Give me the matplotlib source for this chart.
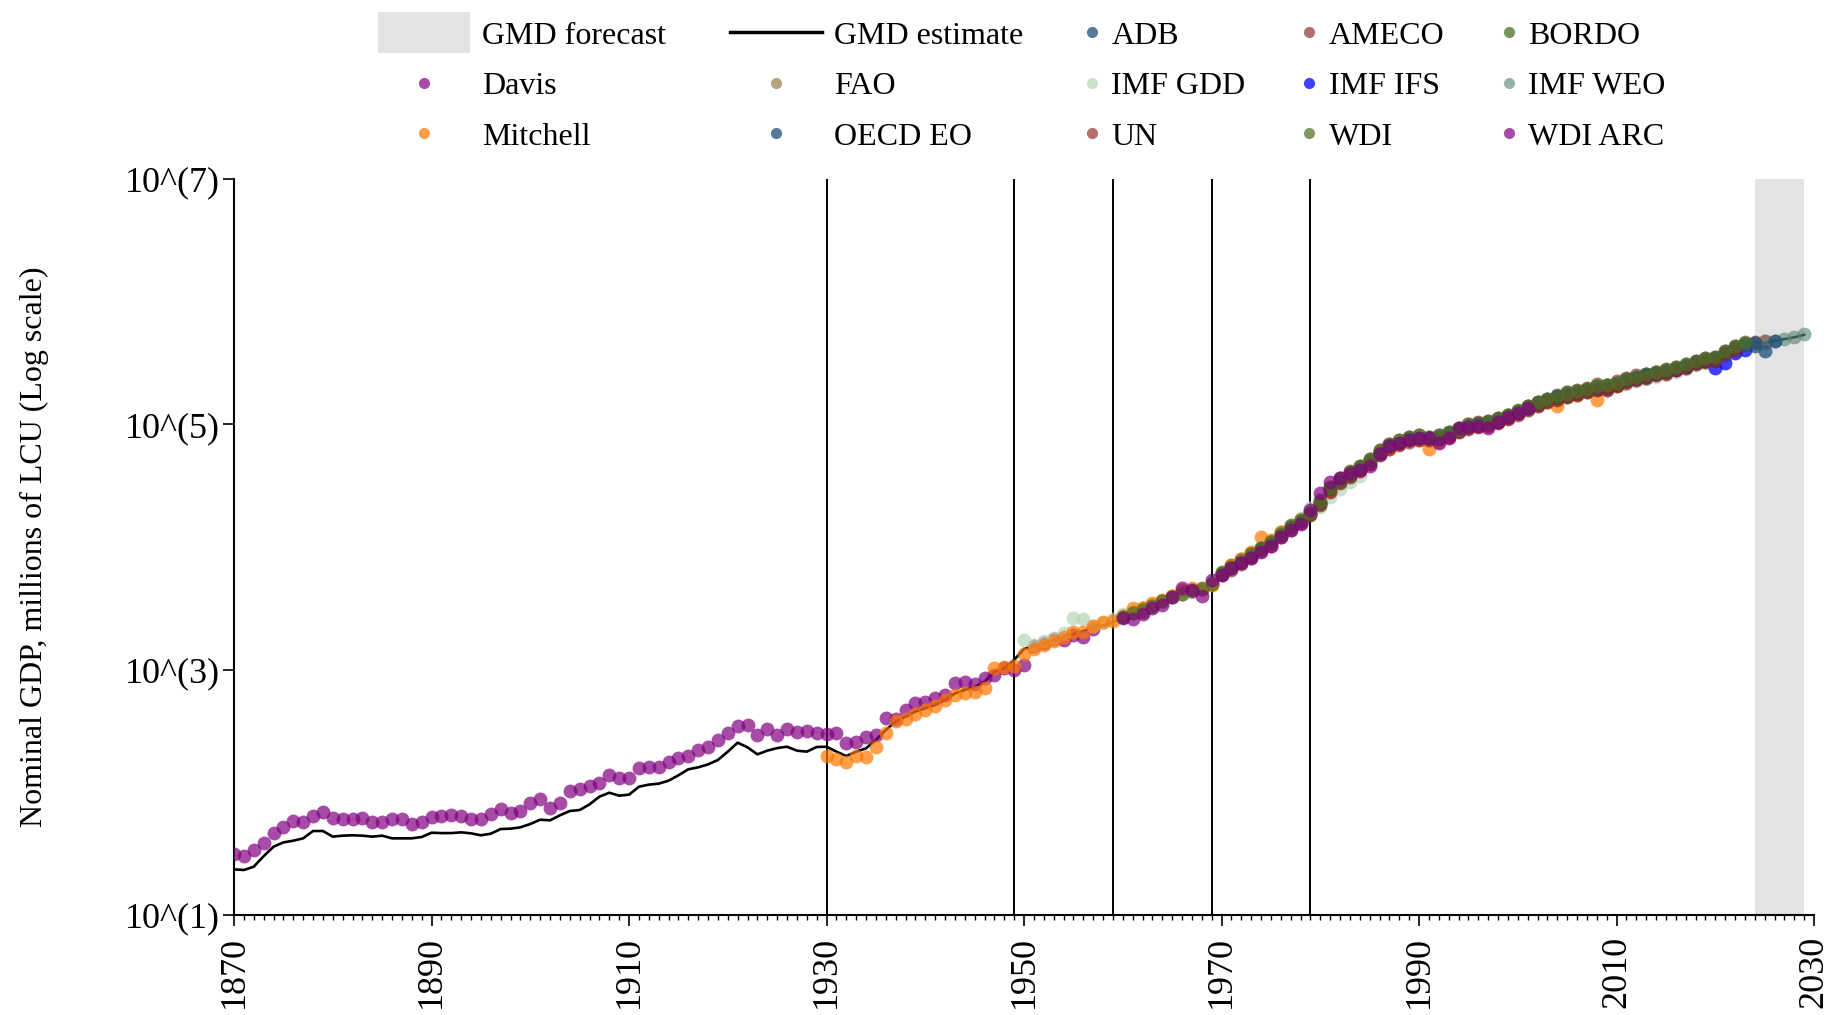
import numpy as np
import matplotlib.pyplot as plt
from matplotlib.patches import Patch, Rectangle
from matplotlib.lines import Line2D
from matplotlib.legend_handler import HandlerPatch

plt.rcParams['font.family'] = ['Liberation Serif', 'DejaVu Serif']

# Nominal GDP, millions of LCU, kept as log10 (the chart is drawn on a log10 axis labelled 10^(k))
gmd_start = 1870
gmd_log10 = [
    1.372, 1.367, 1.394, 1.480, 1.557, 1.592, 1.606, 1.625, 1.685, 1.685,
    1.639, 1.647, 1.650, 1.647, 1.639, 1.647, 1.625, 1.625, 1.625, 1.636,
    1.671, 1.668, 1.668, 1.674, 1.666, 1.650, 1.663, 1.701, 1.704, 1.715,
    1.742, 1.777, 1.772, 1.813, 1.848, 1.856, 1.902, 1.965, 1.997, 1.973,
    1.981, 2.046, 2.063, 2.071, 2.095, 2.139, 2.188, 2.204, 2.228, 2.264,
    2.332, 2.405, 2.367, 2.310, 2.340, 2.361, 2.372, 2.340, 2.332, 2.370,
    2.372, 2.332, 2.296, 2.331, 2.359, 2.427, 2.508, 2.576, 2.617, 2.658,
    2.685, 2.712, 2.753, 2.807, 2.834, 2.861, 2.902, 2.983, 3.011, 3.080,
    3.170, 3.190, 3.210, 3.240, 3.265, 3.290, 3.315, 3.340, 3.360, 3.390,
    3.420, 3.450, 3.475, 3.505, 3.545, 3.585, 3.615, 3.630, 3.650, 3.690,
    3.785, 3.830, 3.880, 3.935, 3.985, 4.030, 4.105, 4.160, 4.215, 4.275,
    4.360, 4.470, 4.540, 4.590, 4.640, 4.700, 4.770, 4.820, 4.850, 4.880,
    4.890, 4.885, 4.890, 4.920, 4.955, 4.980, 4.995, 5.010, 5.025, 5.060,
    5.095, 5.135, 5.165, 5.195, 5.215, 5.235, 5.255, 5.275, 5.290, 5.300,
    5.320, 5.350, 5.370, 5.390, 5.410, 5.425, 5.450, 5.475, 5.500, 5.525,
    5.535, 5.580, 5.625, 5.650, 5.660, 5.665, 5.680, 5.695, 5.710, 5.730,
]
forecast_span = [2024, 2029]
break_years = [1930, 1949, 1959, 1969, 1979]

adb_start = 2000
adb_log10 = [
    5.10, 5.14, 5.16, 5.19, 5.22, 5.24, 5.25, 5.27, 5.29, 5.30,
    5.32, 5.35, 5.37, 5.39, 5.41, 5.43, 5.45, 5.47, 5.50, 5.52,
    5.54, 5.58, 5.62, 5.65, 5.64,
]
ameco_start = 1960
ameco_log10 = [
    3.43, 3.46, 3.47, 3.51, 3.56, 3.59, 3.62, 3.64, 3.66, 3.70,
    3.79, 3.84, 3.89, 3.95, 3.99, 4.04, 4.11, 4.17, 4.22, 4.28,
    4.37, 4.49, 4.56, 4.61, 4.66, 4.72, 4.79, 4.84, 4.87, 4.90,
    4.91, 4.90, 4.91, 4.94, 4.97, 5.00, 5.02, 5.03, 5.05, 5.08,
    5.11, 5.15, 5.18, 5.21, 5.24, 5.26, 5.28, 5.30, 5.33, 5.32,
    5.35, 5.38, 5.40, 5.41, 5.43, 5.45, 5.47, 5.49, 5.52, 5.54,
    5.55, 5.60, 5.64, 5.66, 5.67, 5.68,
]
bordo_start = 1960
bordo_log10 = [
    3.44, 3.47, 3.50, 3.53, 3.56, 3.60, 3.63, 3.65, 3.67, 3.71,
    3.80, 3.85, 3.90, 3.93, 3.98, 4.05, 4.12, 4.18, 4.23, 4.29,
    4.38, 4.49, 4.56, 4.62, 4.66, 4.72, 4.79, 4.84, 4.87, 4.90,
    4.91, 4.90, 4.91, 4.94, 4.97, 5.00, 5.01, 5.03, 5.05, 5.08,
    5.12, 5.15, 5.18, 5.21, 5.23, 5.26, 5.27, 5.29, 5.31, 5.32,
    5.34, 5.37, 5.39, 5.41, 5.43, 5.44,
]
davis_start = 1870
davis_log10 = [
    1.50, 1.48, 1.53, 1.59, 1.67, 1.72, 1.77, 1.76, 1.81, 1.84,
    1.79, 1.78, 1.785, 1.79, 1.755, 1.76, 1.78, 1.78, 1.745, 1.76,
    1.80, 1.805, 1.815, 1.81, 1.78, 1.78, 1.82, 1.865, 1.83, 1.845,
    1.91, 1.945, 1.875, 1.915, 2.015, 2.03, 2.05, 2.075, 2.14, 2.115,
    2.115, 2.20, 2.21, 2.21, 2.25, 2.28, 2.30, 2.345, 2.37, 2.43,
    2.48, 2.54, 2.55, 2.47, 2.515, 2.47, 2.515, 2.49, 2.50, 2.48,
    2.475, 2.48, 2.40, 2.41, 2.45, 2.47, 2.61, 2.60, 2.67, 2.73,
    2.74, 2.77, 2.79, 2.89, 2.90, 2.88, 2.93, 2.96, 3.01, 3.00,
    3.04, 3.19, 3.215, 3.25, 3.24, 3.28, 3.27, 3.33,
]
fao_start = 1970
fao_log10 = [
    3.78, 3.83, 3.88, 3.94, 3.98, 4.03, 4.11, 4.16, 4.21, 4.27,
    4.36, 4.47, 4.54, 4.59, 4.64, 4.70, 4.77, 4.82, 4.85, 4.88,
    4.89, 4.88, 4.89, 4.92, 4.95, 4.98, 5.00, 5.01, 5.02, 5.06,
    5.09, 5.13, 5.17, 5.19, 5.21, 5.23, 5.26, 5.27, 5.29, 5.30,
    5.32, 5.35, 5.37, 5.39, 5.41, 5.42, 5.45, 5.47, 5.50, 5.52,
    5.53, 5.58, 5.62,
]
imf_gdd_start = 1950
imf_gdd_log10 = [
    3.24, 3.20, 3.23, 3.26, 3.30, 3.42, 3.41, 3.36, 3.38, 3.41,
    3.45, 3.46, 3.49, 3.51, 3.55, 3.59, 3.62, 3.64, 3.66, 3.70,
    3.78, 3.83, 3.88, 3.93, 3.99, 4.03, 4.10, 4.17, 4.24, 4.32,
    4.33, 4.41, 4.47, 4.53, 4.58, 4.68, 4.75, 4.81, 4.86, 4.87,
    4.90, 4.87, 4.88, 4.91, 4.94, 4.97, 4.99, 5.00, 5.02, 5.05,
    5.09, 5.12, 5.15, 5.18, 5.20, 5.22, 5.24, 5.26, 5.28, 5.29,
    5.31, 5.33, 5.35, 5.37, 5.39, 5.41, 5.43, 5.45, 5.48, 5.50,
    5.52, 5.56, 5.60,
]
imf_ifs_start = 1986
imf_ifs_log10 = [
    4.77, 4.82, 4.85, 4.88, 4.89, 4.89, 4.89, 4.92, 4.95, 4.98,
    5.00, 5.01, 5.03, 5.05, 5.09, 5.13, 5.16, 5.19, 5.22, 5.24,
    5.25, 5.27, 5.29, 5.28, 5.32, 5.35, 5.38, 5.40, 5.41, 5.43,
    5.44, 5.47, 5.51, 5.52, 5.46, 5.50, 5.58, 5.61,
]
imf_weo_start = 1980
imf_weo_log10 = [
    4.35, 4.46, 4.53, 4.58, 4.63, 4.70, 4.77, 4.82, 4.85, 4.88,
    4.89, 4.885, 4.89, 4.92, 4.955, 4.98, 4.995, 5.01, 5.025, 5.06,
    5.095, 5.135, 5.165, 5.195, 5.215, 5.235, 5.255, 5.275, 5.29, 5.30,
    5.32, 5.35, 5.37, 5.39, 5.41, 5.425, 5.45, 5.475, 5.50, 5.525,
    5.535, 5.58, 5.625, 5.65, 5.665, 5.665, 5.68, 5.695, 5.71, 5.735,
]
mitchell_start = 1930
mitchell_log10 = [
    2.30, 2.27, 2.25, 2.30, 2.29, 2.37, 2.48, 2.58, 2.60, 2.64,
    2.67, 2.70, 2.75, 2.79, 2.81, 2.82, 2.85, 3.01, 3.02, 3.03,
    3.13, 3.17, 3.20, 3.23, 3.27, 3.31, 3.31, 3.36, 3.39, 3.40,
    3.44, 3.50, 3.50, 3.54, 3.57, 3.60, 3.65, 3.67, 3.66, 3.69,
    3.78, 3.85, 3.90, 3.96, 4.08, 4.06, 4.12, 4.17, 4.22, 4.27,
    4.36, 4.46, 4.55, 4.60, 4.63, 4.71, 4.78, 4.80, 4.84, 4.87,
    4.87, 4.80, 4.86, 4.90, 4.95, 4.97, 4.99, 5.00, 5.02, 5.05,
    5.09, 5.13, 5.16, 5.18, 5.15, 5.22, 5.24, 5.26, 5.20, 5.28,
    5.31,
]
oecd_eo_start = 1970
oecd_eo_log10 = [
    3.78, 3.83, 3.88, 3.93, 3.99, 4.03, 4.10, 4.16, 4.21, 4.27,
    4.36, 4.47, 4.54, 4.59, 4.64, 4.70, 4.77, 4.82, 4.85, 4.88,
    4.89, 4.885, 4.89, 4.92, 4.955, 4.98, 4.995, 5.01, 5.025, 5.06,
    5.095, 5.135, 5.165, 5.195, 5.215, 5.235, 5.255, 5.275, 5.29, 5.30,
    5.32, 5.35, 5.37, 5.39, 5.41, 5.425, 5.45, 5.475, 5.50, 5.525,
    5.535, 5.58, 5.625, 5.65, 5.66, 5.60, 5.68,
]
un_start = 1970
un_log10 = [
    3.77, 3.81, 3.86, 3.91, 3.97, 4.01, 4.08, 4.14, 4.20, 4.26,
    4.34, 4.45, 4.52, 4.57, 4.62, 4.68, 4.75, 4.80, 4.83, 4.86,
    4.87, 4.87, 4.88, 4.90, 4.94, 4.96, 4.98, 4.99, 5.01, 5.04,
    5.08, 5.12, 5.15, 5.18, 5.20, 5.22, 5.24, 5.26, 5.28, 5.29,
    5.31, 5.34, 5.36, 5.38, 5.40, 5.41, 5.44, 5.46, 5.49, 5.51,
    5.52, 5.57, 5.61,
]
wdi_start = 1960
wdi_log10 = [
    3.43, 3.46, 3.49, 3.52, 3.56, 3.59, 3.62, 3.64, 3.66, 3.70,
    3.79, 3.84, 3.89, 3.94, 3.99, 4.04, 4.11, 4.17, 4.22, 4.28,
    4.37, 4.48, 4.55, 4.60, 4.65, 4.71, 4.78, 4.83, 4.86, 4.89,
    4.90, 4.89, 4.90, 4.93, 4.96, 4.99, 5.00, 5.02, 5.04, 5.08,
    5.11, 5.15, 5.18, 5.21, 5.23, 5.25, 5.27, 5.29, 5.31, 5.32,
    5.34, 5.37, 5.39, 5.41, 5.43, 5.44, 5.47, 5.49, 5.52, 5.54,
    5.55, 5.60, 5.64, 5.67,
]
wdi_arc_start = 1960
wdi_arc_log10 = [
    3.42, 3.41, 3.45, 3.50, 3.53, 3.59, 3.67, 3.65, 3.60, 3.73,
    3.77, 3.83, 3.87, 3.91, 3.96, 4.01, 4.08, 4.14, 4.19, 4.30,
    4.44, 4.53, 4.56, 4.60, 4.63, 4.66, 4.76, 4.82, 4.845, 4.87,
    4.886, 4.886, 4.845, 4.886, 4.967, 4.98, 4.99, 4.967, 5.02, 5.06,
    5.09, 5.13,
]

# name, first year, values, colour, alpha (drawn in this order)
sources = [
    ('ADB', adb_start, adb_log10, '#1f4e79', 0.75),
    ('AMECO', ameco_start, ameco_log10, '#8b2020', 0.65),
    ('BORDO', bordo_start, bordo_log10, '#4b7025', 0.75),
    ('Davis', davis_start, davis_log10, '#800080', 0.7),
    ('FAO', fao_start, fao_log10, '#8b7335', 0.65),
    ('IMF GDD', imf_gdd_start, imf_gdd_log10, '#b4d7b4', 0.7),
    ('IMF IFS', imf_ifs_start, imf_ifs_log10, '#0000ff', 0.75),
    ('IMF WEO', imf_weo_start, imf_weo_log10, '#5f8a7a', 0.65),
    ('Mitchell', mitchell_start, mitchell_log10, '#ff7700', 0.7),
    ('OECD EO', oecd_eo_start, oecd_eo_log10, '#1f4e79', 0.75),
    ('UN', un_start, un_log10, '#8b2020', 0.65),
    ('WDI', wdi_start, wdi_log10, '#4b7025', 0.7),
    ('WDI ARC', wdi_arc_start, wdi_arc_log10, '#800080', 0.7),
]

ytick_pos = [1, 3, 5, 7]
ytick_labels = ['10^(1)', '10^(3)', '10^(5)', '10^(7)']
xtick_pos = list(range(1870, 2031, 20))


def tall_box(legend, orig_handle, xdescent, ydescent, width, height, fontsize):
    """Forecast swatch that is taller than the text row, centred on it."""
    h = 1.28 * fontsize
    return Rectangle((-xdescent, -ydescent + height / 2 - h / 2), width, h)


fig = plt.figure(figsize=(18.37, 10.15), dpi=100)
ax = fig.add_axes([0.1274, 0.0985, 0.8601, 0.7251])

ax.axvspan(forecast_span[0], forecast_span[1], color='#e3e3e3', lw=0, zorder=0)
for yr in break_years:
    ax.axvline(yr, color='black', lw=1.4, zorder=1)

gmd_years = np.arange(gmd_start, gmd_start + len(gmd_log10))
ax.plot(gmd_years, gmd_log10, color='black', lw=1.9, zorder=2)

handles = {}
for name, start, vals, col, alpha in sources:
    yrs = np.arange(start, start + len(vals))
    handles[name] = ax.scatter(yrs, vals, s=100, color=col, alpha=alpha,
                               linewidths=0, zorder=3)

forecast_patch = Patch(facecolor='#e3e3e3', edgecolor='none')
handles['GMD forecast'] = forecast_patch
handles['GMD estimate'] = Line2D([], [], color='black', lw=2.5)

ax.set_xlim(1870, 2030)
ax.set_ylim(1, 7)
ax.set_xticks(xtick_pos)
ax.set_xticklabels([str(x) for x in xtick_pos], rotation=90, fontsize=26)
ax.set_xticks(range(1870, 2031), minor=True)
ax.set_yticks(ytick_pos)
ax.set_yticklabels(ytick_labels, fontsize=26)
ax.tick_params(axis='both', which='major', length=8, width=1.2, pad=2)
ax.tick_params(axis='x', which='major', pad=7)
ax.tick_params(axis='x', which='minor', length=3.5, width=1.0)
for side in ['top', 'right']:
    ax.spines[side].set_visible(False)
for side in ['left', 'bottom']:
    ax.spines[side].set_linewidth(1.5)

ax.set_ylabel('Nominal GDP, millions of LCU (Log scale)', fontsize=23)
ax.yaxis.set_label_coords(-0.117, 0.5)

# legend in two blocks so that the wide handles only sit in the first two columns
order_a = ['GMD forecast', 'Davis', 'Mitchell', 'GMD estimate', 'FAO', 'OECD EO']
order_b = ['ADB', 'IMF GDD', 'UN', 'AMECO', 'IMF IFS', 'WDI', 'BORDO', 'IMF WEO', 'WDI ARC']
common = dict(frameon=False, fontsize=23, borderpad=0, borderaxespad=0,
              markerscale=0.8, scatterpoints=1, scatteryoffsets=[0.5],
              labelspacing=0.66, bbox_transform=fig.transFigure, loc='upper left')
fig.legend([handles[k] for k in order_a], order_a, ncol=2,
           bbox_to_anchor=(0.2058, 0.979), handlelength=2.875,
           handletextpad=0.375, columnspacing=2.0,
           handler_map={forecast_patch: HandlerPatch(patch_func=tall_box)}, **common)
fig.legend([handles[k] for k in order_b], order_b, ncol=3,
           bbox_to_anchor=(0.5892, 0.979), handlelength=0.6,
           handletextpad=0.31, columnspacing=1.7, **common)

fig.savefig('out.png', dpi=100)
